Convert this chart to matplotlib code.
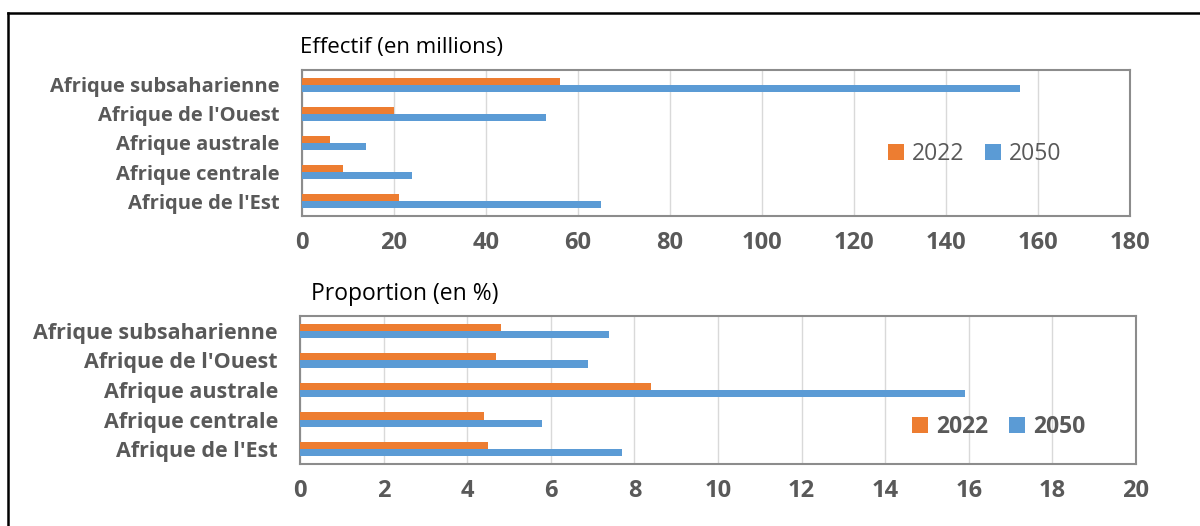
import matplotlib
matplotlib.use("Agg")
import matplotlib.pyplot as plt
from matplotlib.lines import Line2D
import numpy as np

plt.rcParams['font.family'] = ['Open Sans', 'DejaVu Sans']

categories = ["Afrique de l'Est", "Afrique centrale", "Afrique australe",
              "Afrique de l'Ouest", "Afrique subsaharienne"]
effectif_2022 = [21, 9, 6, 20, 56]
effectif_2050 = [65, 24, 14, 53, 156]
proportion_2022 = [4.5, 4.4, 8.4, 4.7, 4.8]
proportion_2050 = [7.7, 5.8, 15.9, 6.9, 7.4]
series_labels = ["2022", "2050"]
effectif_ticks = list(range(0, 181, 20))
proportion_ticks = list(range(0, 21, 2))

ORANGE = "#ED7D31"
BLUE = "#5B9BD5"
TXT = "#595959"

W, H = 1200, 526
fig = plt.figure(figsize=(W/100, H/100), dpi=100)

# outer black frame (top and left)
fig.add_artist(Line2D([8/W, 8/W], [0, 1-13/H], color='black', lw=1.8, transform=fig.transFigure))
fig.add_artist(Line2D([8/W, 1], [1-13/H, 1-13/H], color='black', lw=1.8, transform=fig.transFigure))

def panel(px, v22, v50, ticks, xmax, title, title_xy, title_size, cat_size,
          leg_xy, leg_bold):
    l, r, t, b = px
    ax = fig.add_axes([l/W, 1-b/H, (r-l)/W, (b-t)/H])
    y = np.arange(len(categories))
    h = 0.24
    ax.barh(y + h/2, v22, height=h, color=ORANGE, label=series_labels[0], zorder=3)
    ax.barh(y - h/2, v50, height=h, color=BLUE, label=series_labels[1], zorder=3)
    ax.set_xlim(0, xmax)
    ax.set_ylim(-0.5, len(categories) - 0.5)
    ax.set_xticks(ticks)
    ax.set_xticklabels([str(t) for t in ticks], fontsize=17, fontweight='bold', color=TXT)
    ax.set_yticks(y)
    ax.set_yticklabels(categories, fontsize=cat_size, fontweight='bold', color=TXT)
    ax.tick_params(axis='x', length=0, pad=11)
    ax.tick_params(axis='y', length=0, pad=16)
    ax.grid(axis='x', color='#D9D9D9', lw=1.0, zorder=0)
    for s in ax.spines.values():
        s.set_color('#8C8C8C')
        s.set_linewidth(1.5)
    fig.text(title_xy[0]/W, 1-title_xy[1]/H, title, fontsize=title_size, color='black',
             ha='left', va='center')
    leg = fig.legend(handles=ax.get_legend_handles_labels()[0],
                     labels=series_labels, loc='center',
                     bbox_to_anchor=(leg_xy[0]/W, 1-leg_xy[1]/H),
                     ncol=2, frameon=False, handlelength=0.7, handleheight=0.7,
                     handletextpad=0.35, columnspacing=0.9,
                     prop={'size': 16.5, 'weight': 'bold' if leg_bold else 'normal'})
    for t in leg.get_texts():
        t.set_color(TXT)
    return ax

panel((302, 1130, 70, 216), effectif_2022, effectif_2050,
      effectif_ticks, 180, "Effectif (en millions)", (300, 47), 16, 14.5,
      (975, 154), False)
panel((300, 1136, 316, 464), proportion_2022, proportion_2050,
      proportion_ticks, 20, "Proportion (en %)", (311, 294), 16.5, 15.5,
      (999, 427), True)

fig.savefig("out.png", dpi=100)
